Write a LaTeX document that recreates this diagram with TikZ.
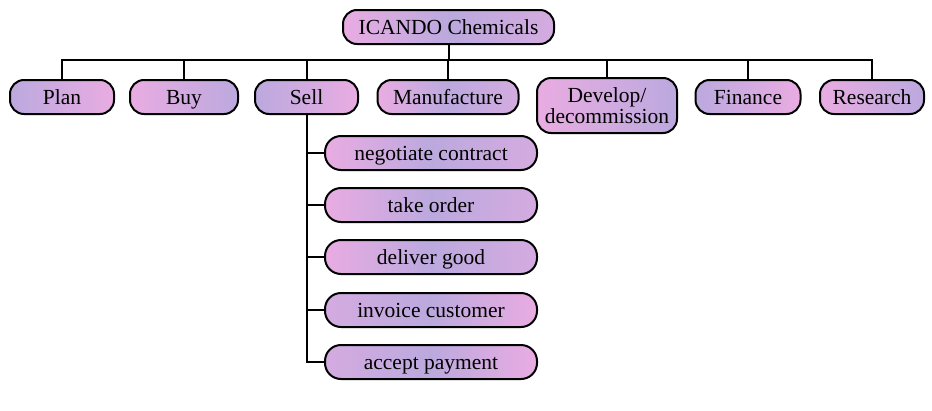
\documentclass[tikz,border=0pt]{standalone}
\usepackage{fontspec}
\setmainfont{Liberation Serif}
\definecolor{pk}{HTML}{E9ACE2}
\definecolor{lv}{HTML}{BBA9DE}
\definecolor{mx}{HTML}{D4ABE0}
\tikzset{
  box/.style={draw=black, line width=2pt, rounded corners=14pt, inner sep=0pt,
    minimum height=34pt, align=center, text height=14pt, text depth=0pt,
    font=\fontsize{21.5}{22}\selectfont},
  lp/.style={box, left color=lv, right color=pk},
  pl/.style={box, left color=pk, right color=lv},
  plp/.style={box, left color=pk, right color=mx, middle color=lv},
  lvp/.style={box, left color=mx, right color=pk, middle color=lv},
  conn/.style={line width=2pt},
}
\begin{document}
\begin{tikzpicture}[x=1pt,y=-1pt]
\useasboundingbox (0,0) rectangle (932,410);
\node[plp, minimum width=211pt] (root) at (448.5,27) {ICANDO Chemicals};
\node[lp, minimum width=104pt] (plan) at (62,97) {Plan};
\node[pl, minimum width=108pt] (buy) at (184,97) {Buy};
\node[lp, minimum width=103pt] (sell) at (306.5,97) {Sell};
\node[plp, minimum width=141pt] (man) at (448,97) {Manufacture};
\node[pl, minimum width=140pt, minimum height=55pt, text height=, text depth=, font=\fontsize{21.5}{21}\selectfont] (dev) at (607,105.5) {Develop/\\decommission};
\node[lp, minimum width=105pt] (fin) at (748,97) {Finance};
\node[pl, minimum width=104pt] (res) at (872,97) {Research};
\node[plp, minimum width=212pt, rounded corners=16pt] (neg) at (431,153) {negotiate contract};
\node[plp, minimum width=212pt, rounded corners=16pt] (take) at (431,205) {take order};
\node[plp, minimum width=212pt, rounded corners=16pt] (del) at (431,257) {deliver good};
\node[lvp, minimum width=212pt, rounded corners=16pt] (inv) at (431,310) {invoice customer};
\node[lvp, minimum width=212pt, rounded corners=16pt] (acc) at (431,362) {accept payment};
\coordinate (bus) at (0,60);
\draw[conn] (root.south) -- (root.south |- bus);
\draw[conn, line cap=rect] (plan.north |- bus) -- (res.north |- bus);
\foreach \n in {plan,buy,sell,man,dev,fin,res}{
  \draw[conn] (\n.north) -- (\n.north |- bus);
}
\draw[conn] (sell.south) -- (sell.south |- acc.west) -- (acc.west);
\foreach \n in {neg,take,del,inv}{
  \draw[conn] (\n.west) -- (\n.west -| sell.south);
}
\end{tikzpicture}
\end{document}
